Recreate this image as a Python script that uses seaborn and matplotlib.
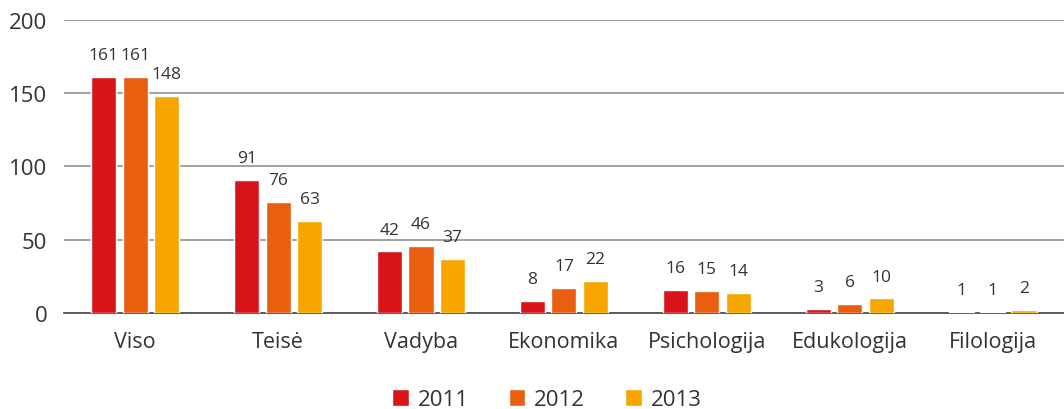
import pandas as pd
import matplotlib.pyplot as plt
import seaborn as sns

categories = ["Viso", "Teisė", "Vadyba", "Ekonomika", "Psichologija", "Edukologija", "Filologija"]
years = ["2011", "2012", "2013"]
v2011 = [161, 91, 42, 8, 16, 3, 1]
v2012 = [161, 76, 46, 17, 15, 6, 1]
v2013 = [148, 63, 37, 22, 14, 10, 2]
colors = ["#D7141A", "#E95E0F", "#F7A600"]

rows = []
for year, vals in zip(years, [v2011, v2012, v2013]):
    for cat, v in zip(categories, vals):
        rows.append({"Sritis": cat, "Metai": year, "Reikšmė": v})
data = pd.DataFrame(rows)

sns.set_theme(style="white")
plt.rcParams['font.family'] = ['Open Sans', 'DejaVu Sans']

fig = plt.figure(figsize=(10.64, 4.10), dpi=100)
ax = fig.add_axes([0.06, 0.234, 0.94, 0.715])

sns.barplot(data=data, x="Sritis", y="Reikšmė", hue="Metai", order=categories,
            hue_order=years, palette=colors, width=0.66, gap=0.2,
            saturation=1, ax=ax, legend=True)

for cont in ax.containers:
    ax.bar_label(cont, padding=10, fontsize=12.5, color="#333333")

ax.set_ylim(0, 200)
ax.set_yticks([0, 50, 100, 150, 200])
ax.yaxis.grid(True, color="#9a9a9a", linewidth=1.3)
ax.set_axisbelow(True)
for s in ["top", "right", "left"]:
    ax.spines[s].set_visible(False)
ax.spines["bottom"].set_color("#555555")
ax.spines["bottom"].set_linewidth(1.3)
ax.spines["bottom"].set_zorder(0.9)
ax.tick_params(axis="y", labelsize=16, labelcolor="#333333", pad=12, length=0)
ax.tick_params(axis="x", labelsize=15.5, labelcolor="#333333", pad=13, length=0)
ax.set_xlabel("")
ax.set_ylabel("")

handles, labels = ax.get_legend_handles_labels()
ax.legend(handles, labels, loc="lower center", bbox_to_anchor=(0.483, -0.385),
          ncol=3, frameon=False, fontsize=16, handlelength=0.75, handleheight=0.75,
          handletextpad=0.4, columnspacing=1.8, labelcolor="#333333",
          borderpad=0.2)

fig.savefig("out.png", dpi=100)
